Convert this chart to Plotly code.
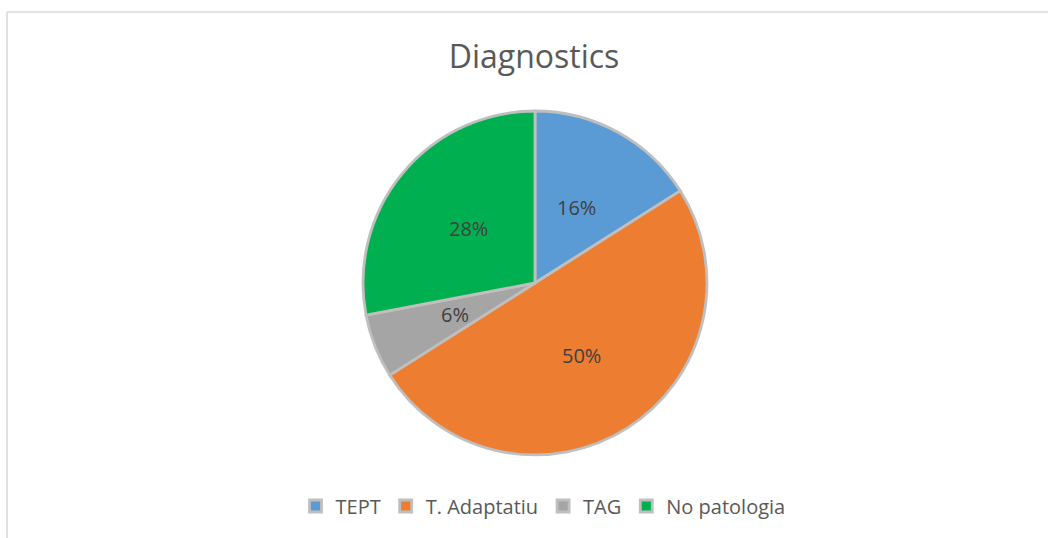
import math
import plotly.graph_objects as go

categories = ["TEPT", "T. Adaptatiu", "TAG", "No patologia"]
values = [16, 50, 6, 28]
colors = ["#5B9BD5", "#ED7D31", "#A5A5A5", "#00B050"]
title_text = "Diagnostics"

W, H = 1048, 538
cx, cy, r = 535, 283, 172

fig = go.Figure(go.Pie(
    labels=categories,
    values=values,
    sort=False,
    direction="clockwise",
    rotation=0,
    marker=dict(colors=colors, line=dict(color="#BFBFBF", width=2.8)),
    textinfo="none",
    domain=dict(x=[(cx - r) / W, (cx + r) / W], y=[1 - (cy + r) / H, 1 - (cy - r) / H]),
    hoverinfo="label+percent",
))

# percentage labels at half radius along each slice bisector (Excel "best fit" look)
total = sum(values)
annotations = []
cum = 0
for v in values:
    mid = (cum + v / 2) / total * 2 * math.pi
    cum += v
    px = cx + 0.5 * r * math.sin(mid)
    py = cy - 0.5 * r * math.cos(mid)
    annotations.append(dict(
        x=px / W, y=1 - py / H, xref="paper", yref="paper",
        text=f"{round(100 * v / total)}%", showarrow=False,
        xanchor="center", yanchor="middle",
        font=dict(family="Open Sans", size=20, color="#404040"),
    ))

fig.update_layout(
    width=W, height=H,
    margin=dict(l=0, r=0, t=0, b=0),
    paper_bgcolor="white",
    plot_bgcolor="white",
    title=dict(text=title_text, x=534 / W, xanchor="center", y=1 - 57 / H, yanchor="middle",
               font=dict(family="Open Sans", size=32, color="#595959")),
    showlegend=True,
    legend=dict(orientation="h", x=543 / W, xanchor="center", y=1 - 506 / H, yanchor="middle",
                font=dict(family="Open Sans", size=20, color="#595959"),
                traceorder="normal"),
    annotations=annotations,
    shapes=[
        dict(type="line", xref="paper", yref="paper", x0=7 / W, x1=1.0, y0=1 - 12 / H, y1=1 - 12 / H,
             line=dict(color="#D9D9D9", width=1.5)),
        dict(type="line", xref="paper", yref="paper", x0=7 / W, x1=7 / W, y0=1 - 12 / H, y1=0,
             line=dict(color="#D9D9D9", width=1.5)),
    ],
)

fig.write_html("out.html", config={"displayModeBar": False},
               post_script="document.body.style.margin='0';document.body.style.overflow='hidden';")
